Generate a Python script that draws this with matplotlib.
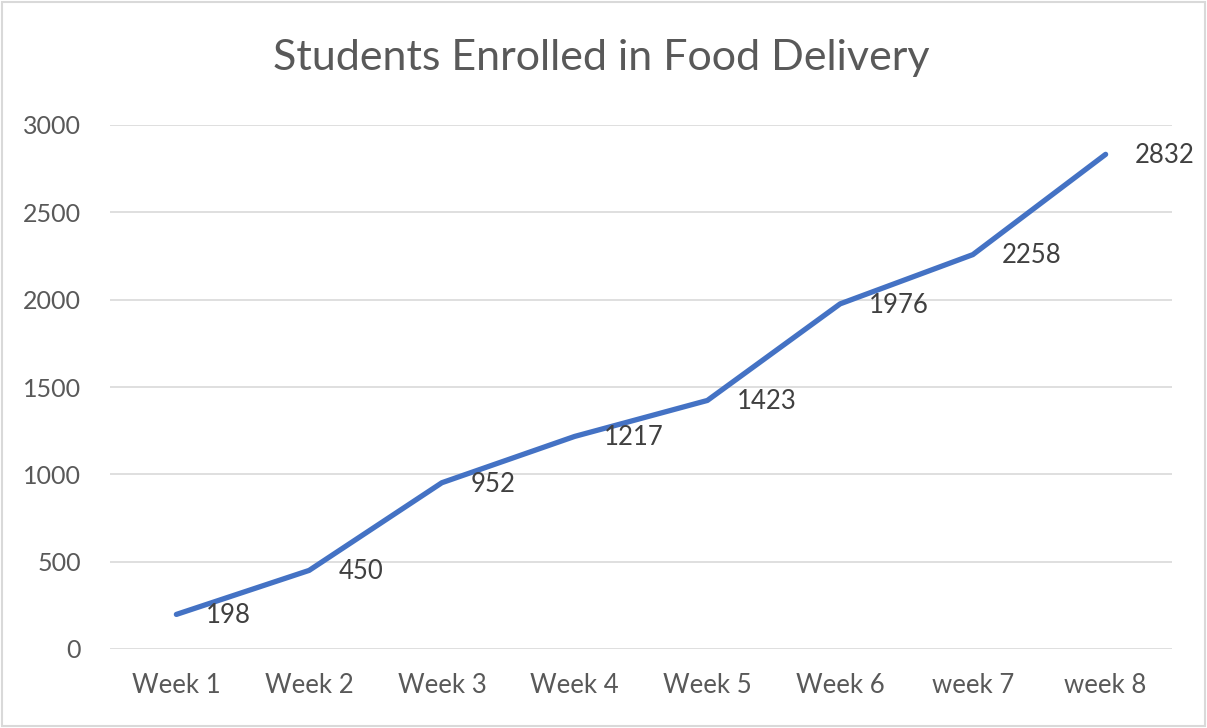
import matplotlib
matplotlib.use("Agg")
from matplotlib import pyplot as plt, patches as mpatches

weeks = ["Week 1", "Week 2", "Week 3", "Week 4", "Week 5", "Week 6", "week 7", "week 8"]
students = [198, 450, 952, 1217, 1423, 1976, 2258, 2832]
yticks = [0, 500, 1000, 1500, 2000, 2500, 3000]

plt.rcParams['font.family'] = ['Lato', 'DejaVu Sans']
txt = '#595959'

fig = plt.figure(figsize=(12.07, 7.28), dpi=100)
ax = fig.add_axes([110 / 1207, 1 - 649 / 728, 1062 / 1207, 524 / 728])

x = list(range(len(weeks)))
ax.plot(x, students, color='#4472C4', linewidth=3.8, solid_capstyle='round', zorder=3)
for xi, v in zip(x, students):
    ax.annotate(str(v), (xi, v), xytext=(21, -1), textcoords='offset points',
                ha='left', va='center', fontsize=18.5, color='#404040', zorder=4)

ax.set_xlim(-0.5, len(weeks) - 0.5)
ax.set_ylim(0, 3000)
ax.set_yticks(yticks)
ax.set_yticklabels([str(t) for t in yticks], fontsize=18, color=txt)
ax.set_xticks(x)
ax.set_xticklabels(weeks, fontsize=18.5, color=txt)
ax.tick_params(axis='both', length=0)
ax.tick_params(axis='y', pad=21)
ax.tick_params(axis='x', pad=17)
ax.grid(axis='y', color='#D9D9D9', linewidth=1.2)
ax.set_axisbelow(True)
for s in ax.spines.values():
    s.set_visible(False)

fig.text(601 / 1207, 1 - 58 / 728, "Students Enrolled in Food Delivery",
         ha='center', va='center', fontsize=31, color=txt)

fig.patches.append(mpatches.Rectangle((0.002, 0.003), 0.996, 0.994, transform=fig.transFigure,
                                      fill=False, edgecolor='#D9D9D9', linewidth=1.5))

fig.savefig('out.png', dpi=100)
